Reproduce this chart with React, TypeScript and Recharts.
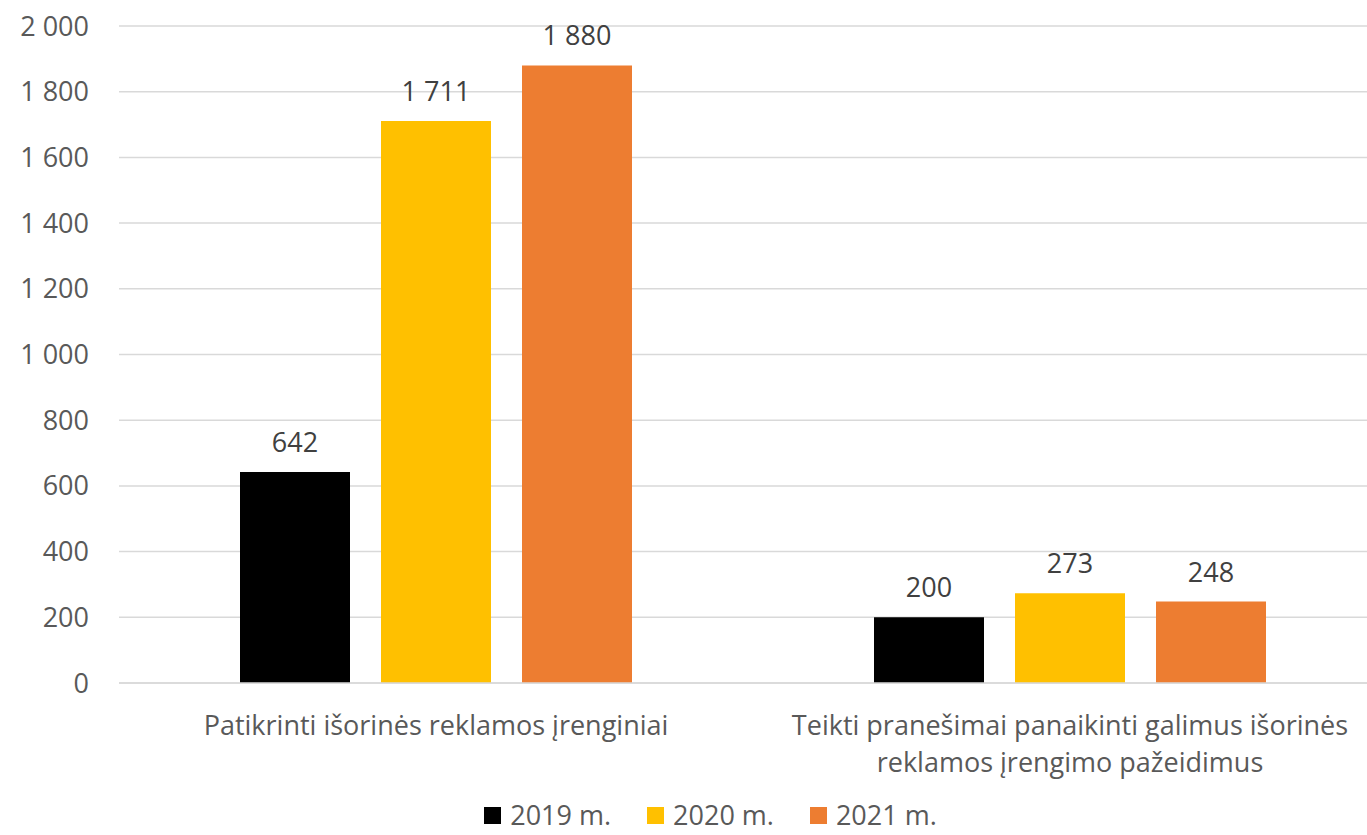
import React from 'react';
import { BarChart, Bar, XAxis, YAxis, CartesianGrid, LabelList, Legend } from 'recharts';

const categories = [
  'Patikrinti išorinės reklamos įrenginiai',
  'Teikti pranešimai panaikinti galimus išorinės reklamos įrengimo pažeidimus',
];
const values2019 = [642, 200];
const values2020 = [1711, 273];
const values2021 = [1880, 248];
const yTicks = [0, 200, 400, 600, 800, 1000, 1200, 1400, 1600, 1800, 2000];

const seriesInfo = [
  { key: 'y2019', name: '2019 m.', color: '#000000' },
  { key: 'y2020', name: '2020 m.', color: '#FFC000' },
  { key: 'y2021', name: '2021 m.', color: '#ED7D31' },
];

const FONT = '"Open Sans", "Noto Sans", sans-serif';
const TEXT_COLOR = '#595959';
const LABEL_COLOR = '#404040';
const GRID_COLOR = '#D9D9D9';
const FONT_SIZE = 27;

const data = categories.map((name, i) => ({
  name,
  y2019: values2019[i],
  y2020: values2020[i],
  y2021: values2021[i],
}));

// thousands with a space, like "1 880"
const fmt = (v: any) => String(v).replace(/\B(?=(\d{3})+(?!\d))/g, ' ');

function wrapWords(text: string, maxChars: number) {
  const words = text.split(' ');
  const lines: string[] = [];
  let cur = '';
  words.forEach((w) => {
    const next = cur ? cur + ' ' + w : w;
    if (next.length > maxChars && cur) {
      lines.push(cur);
      cur = w;
    } else {
      cur = next;
    }
  });
  if (cur) lines.push(cur);
  return lines;
}

const CategoryTick = (props: any) => {
  const { x, y, payload } = props;
  const lines = wrapWords(payload.value, 48);
  return (
    <g>
      {lines.map((line, i) => (
        <text
          key={i}
          x={x}
          y={y + 44 + i * 37}
          textAnchor="middle"
          fill={TEXT_COLOR}
          fontSize={FONT_SIZE}
          fontFamily={FONT}
        >
          {line}
        </text>
      ))}
    </g>
  );
};

const LegendContent = () => (
  <div
    style={{
      height: 52,
      display: 'flex',
      justifyContent: 'center',
      alignItems: 'flex-start',
      paddingTop: 18,
      paddingLeft: 34,
      boxSizing: 'border-box',
      fontFamily: FONT,
      fontSize: FONT_SIZE,
      lineHeight: '28px',
      color: TEXT_COLOR,
    }}
  >
    {seriesInfo.map((s) => (
      <div key={s.key} style={{ display: 'flex', alignItems: 'center', margin: '0 18px' }}>
        <span style={{ width: 17, height: 17, background: s.color, display: 'inline-block', marginRight: 9 }} />
        <span>{s.name}</span>
      </div>
    ))}
  </div>
);

export default function App() {
  return (
    <div style={{ width: 1367, height: 835, overflow: 'hidden', background: '#fff' }}>
      <style>{'body{margin:0;}'}</style>
      <BarChart
        width={1428}
        height={835}
        data={data}
        margin={{ top: 26, right: 41, bottom: 0, left: 0 }}
        barSize={110}
        barGap={31}
      >
        <CartesianGrid vertical={false} stroke={GRID_COLOR} strokeWidth={1.5} />
        <XAxis
          dataKey="name"
          height={100}
          tickLine={false}
          axisLine={{ stroke: GRID_COLOR, strokeWidth: 1.5 }}
          tick={<CategoryTick />}
          interval={0}
        />
        <YAxis
          width={119}
          domain={[0, 2000]}
          ticks={yTicks}
          tickFormatter={fmt}
          tickLine={false}
          axisLine={false}
          tickMargin={24}
          tick={{ fill: TEXT_COLOR, fontSize: FONT_SIZE, fontFamily: FONT }}
        />
        <Legend verticalAlign="bottom" content={<LegendContent />} />
        {seriesInfo.map((s) => (
          <Bar key={s.key} dataKey={s.key} name={s.name} fill={s.color} isAnimationActive={false}>
            <LabelList
              dataKey={s.key}
              position="top"
              offset={20}
              formatter={fmt}
              fill={LABEL_COLOR}
              fontSize={FONT_SIZE}
              fontFamily={FONT}
            />
          </Bar>
        ))}
      </BarChart>
    </div>
  );
}
